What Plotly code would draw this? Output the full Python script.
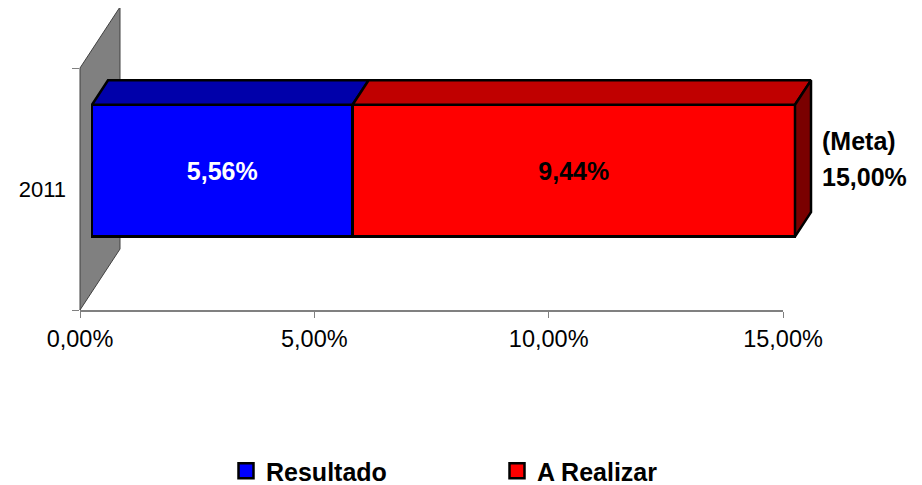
import plotly.graph_objects as go

# ---------------- data ----------------
CATEGORIES = ["2011"]
SERIES_NAMES = ["Resultado", "A Realizar"]
SERIES_VALUES = [[5.56], [9.44]]          # percent
META_LABEL = "(Meta)"
META_VALUE = 15.00
TICK_VALUES = [0, 5, 10, 15]

# ---------------- styles / geometry ----------------
FRONT_COLORS = ["#0000FF", "#FF0000"]
TOP_COLORS = ["#0000AA", "#C00000"]
SIDE_COLOR = "#7A0000"
WALL_COLOR = "#808080"
LABEL_COLORS = ["white", "black"]
FONT = "Liberation Sans, Arial, sans-serif"

OFF = 8                      # page body margin
W, H = 922 - OFF, 500
AX_LEFT, AX_RIGHT, AX_TOP, AX_BOTTOM = 80 - OFF, 783 - OFF, 68 - OFF, 310 - OFF
XMAX = max(TICK_VALUES)
PPX = (AX_RIGHT - AX_LEFT) / XMAX
PPY = (AX_BOTTOM - AX_TOP)
YC = (AX_TOP + AX_BOTTOM) / 2
DEPTH_PX = (40, -61)
BAR_D0, BAR_D1 = 0.3, 0.7
BAR_WIDTH = 0.545
EDGE = 2.5
LEGEND_X, LEGEND_Y = 226, 471


def plane_ranges(d):
    ox = AX_LEFT + d * DEPTH_PX[0]
    oy = YC + d * DEPTH_PX[1]
    return [(0 - ox) / PPX, (W - ox) / PPX], [(oy - H) / PPY, oy / PPY]


def depth_units(dd):
    return dd * DEPTH_PX[0] / PPX, -dd * DEPTH_PX[1] / PPY


def fmt(v):
    return f"{v:.2f}".replace(".", ",") + "%"


fig = go.Figure()

# back wall (plane d=0, axis x/y)
wx, wy = depth_units(1.0)
fig.add_trace(go.Scatter(
    x=[0, 0, wx, wx, 0], y=[-0.5, 0.5, 0.5 + wy, -0.5 + wy, -0.5],
    mode="lines", fill="toself", fillcolor=WALL_COLOR,
    line=dict(color="#404040", width=1), hoverinfo="skip", showlegend=False,
    xaxis="x", yaxis="y"))

# bars (front plane d=BAR_D0, axis x2/y2)
ypos = list(range(len(CATEGORIES)))
for i, name in enumerate(SERIES_NAMES):
    fig.add_trace(go.Bar(
        x=SERIES_VALUES[i], y=ypos, orientation="h", width=BAR_WIDTH,
        marker=dict(color=FRONT_COLORS[i], line=dict(color="black", width=EDGE)),
        text=[fmt(v) for v in SERIES_VALUES[i]], textposition="inside",
        insidetextanchor="middle", textangle=0,
        textfont=dict(family=FONT, size=25, color=LABEL_COLORS[i], weight="bold"),
        name=name, showlegend=False, hoverinfo="skip",
        xaxis="x2", yaxis="y2"))

dxu, dyu = depth_units(BAR_D1 - BAR_D0)
for k, yc in enumerate(ypos):
    top = yc + BAR_WIDTH / 2
    bot = yc - BAR_WIDTH / 2
    base = 0
    for i in range(len(SERIES_NAMES)):
        v = SERIES_VALUES[i][k]
        fig.add_trace(go.Scatter(
            x=[base, base + v, base + v + dxu, base + dxu, base],
            y=[top, top, top + dyu, top + dyu, top],
            mode="lines", fill="toself", fillcolor=TOP_COLORS[i],
            line=dict(color="black", width=EDGE), hoverinfo="skip",
            showlegend=False, xaxis="x2", yaxis="y2"))
        base += v
    fig.add_trace(go.Scatter(
        x=[base, base + dxu, base + dxu, base, base],
        y=[top, top + dyu, bot + dyu, bot, top],
        mode="lines", fill="toself", fillcolor=SIDE_COLOR,
        line=dict(color="black", width=EDGE), hoverinfo="skip",
        showlegend=False, xaxis="x2", yaxis="y2"))

# legend entries on the visible axis (x3/y3)
for i, name in enumerate(SERIES_NAMES):
    fig.add_trace(go.Scatter(
        x=[None] * len(CATEGORIES), y=CATEGORIES, mode="markers", name=name,
        marker=dict(symbol="square", size=15, color=FRONT_COLORS[i],
                    line=dict(color="black", width=2.5)),
        xaxis="x3", yaxis="y3"))

xr0, yr0 = plane_ranges(0)
xr1, yr1 = plane_ranges(BAR_D0)
hidden = dict(visible=False, showgrid=False, zeroline=False, fixedrange=True)

fig.update_layout(
    width=W, height=H, margin=dict(l=0, r=0, t=0, b=0),
    paper_bgcolor="white", plot_bgcolor="rgba(0,0,0,0)",
    barmode="stack", font=dict(family=FONT, color="black"),
    xaxis=dict(domain=[0, 1], range=xr0, anchor="y", **hidden),
    yaxis=dict(domain=[0, 1], range=yr0, anchor="x", **hidden),
    xaxis2=dict(domain=[0, 1], range=xr1, anchor="y2", **hidden),
    yaxis2=dict(domain=[0, 1], range=yr1, anchor="x2", **hidden),
    xaxis3=dict(domain=[AX_LEFT / W, AX_RIGHT / W], range=[0, XMAX], anchor="y3",
                tickvals=TICK_VALUES, ticktext=[fmt(v) for v in TICK_VALUES],
                ticks="outside", ticklen=6, tickcolor="#808080", ticklabelstandoff=1,
                showline=True, linecolor="#808080", linewidth=1.5,
                showgrid=False, zeroline=False, automargin=False,
                tickfont=dict(family=FONT, size=23.5, color="black")),
    yaxis3=dict(domain=[(H - AX_BOTTOM) / H, (H - AX_TOP) / H], range=[-0.5, 0.5],
                type="category", anchor="x3", tickson="boundaries",
                ticks="outside", ticklen=7, tickcolor="#808080", ticklabelstandoff=13,
                showline=False, showgrid=False, zeroline=False, automargin=False,
                tickfont=dict(family=FONT, size=22, color="black")),
    legend=dict(orientation="h", traceorder="normal",
                x=(LEGEND_X - OFF) / W, xanchor="left",
                y=(H - (LEGEND_Y - OFF)) / H, yanchor="middle", entrywidth=226,
                font=dict(family=FONT, size=25, color="black", weight="bold"),
                bgcolor="rgba(0,0,0,0)"),
    showlegend=True,
)

fig.add_annotation(x=META_VALUE, y=ypos[0], xref="x2", yref="y2", text=f"<b>{META_LABEL}</b>",
                   showarrow=False, xanchor="left", yanchor="middle", xshift=25, yshift=30,
                   font=dict(family=FONT, size=25, color="black"))
fig.add_annotation(x=META_VALUE, y=ypos[0], xref="x2", yref="y2", text=f"<b>{fmt(META_VALUE)}</b>",
                   showarrow=False, xanchor="left", yanchor="middle", xshift=25, yshift=-6,
                   font=dict(family=FONT, size=25, color="black"))

fig.write_html("out.html")
